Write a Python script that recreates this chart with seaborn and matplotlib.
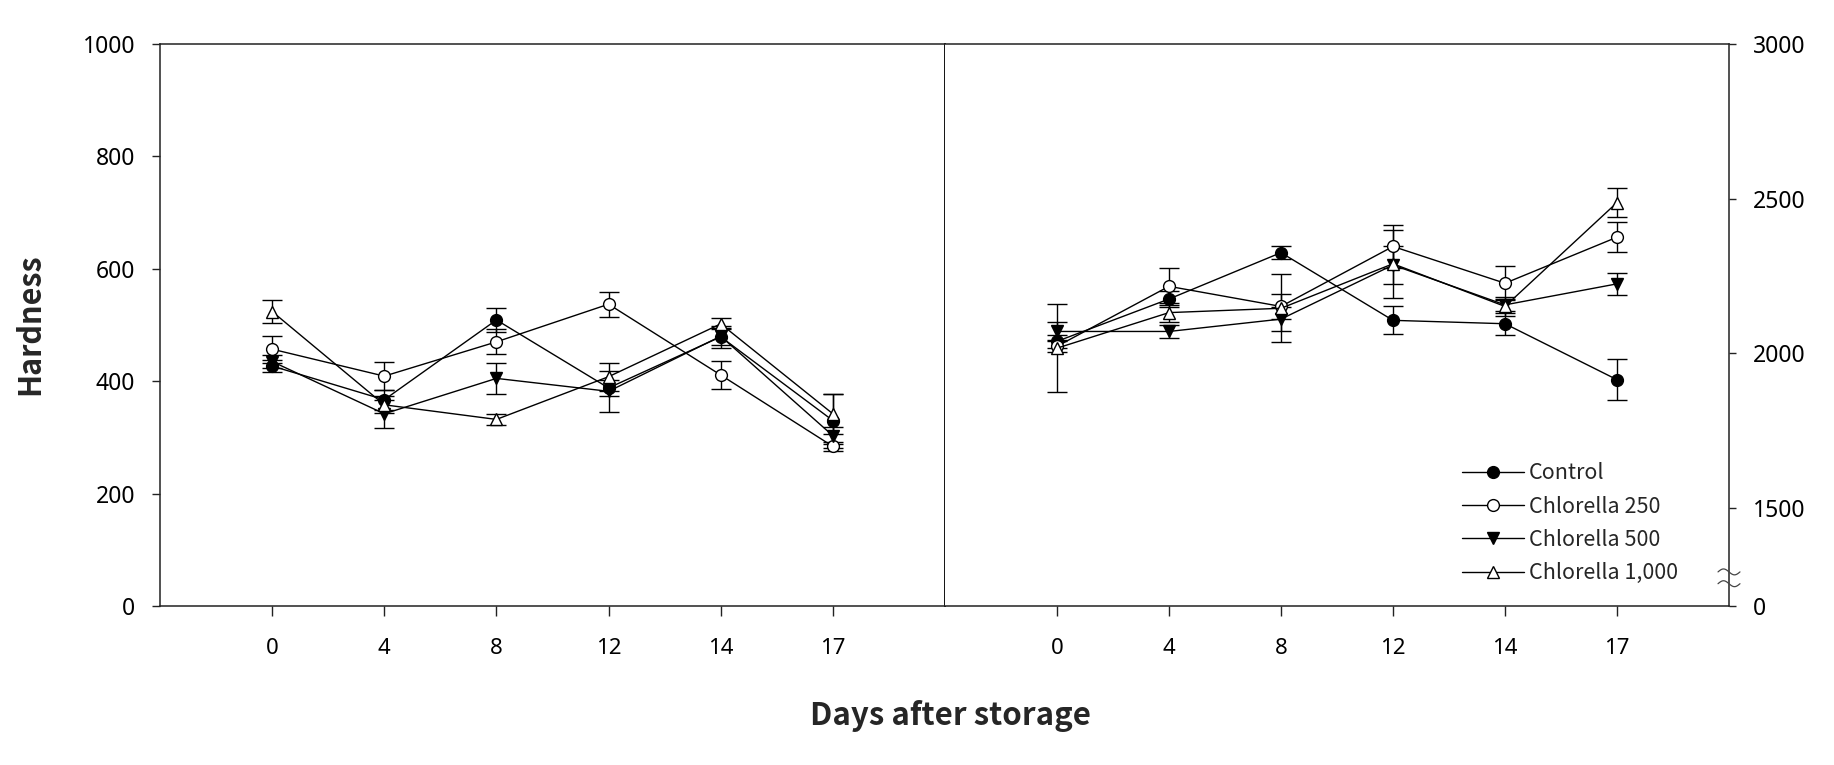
import numpy as np
import pandas as pd
import matplotlib
matplotlib.use("Agg")
import matplotlib.pyplot as plt
import matplotlib.transforms as mtransforms
import seaborn as sns

# ---------------- data ----------------
days = ["0", "4", "8", "12", "14", "17"]
series_names = ["Control", "Chlorella 250", "Chlorella 500", "Chlorella 1,000"]

# left panel (left axis, 0-1000)
left_control = [427, 367, 509, 388, 479, 330]
left_control_err = [10, 18, 22, 15, 20, 48]
left_c250 = [457, 409, 470, 537, 411, 284]
left_c250_err = [24, 25, 22, 22, 25, 8]
left_c500 = [435, 342, 405, 382, 480, 303]
left_c500_err = [12, 25, 27, 37, 15, 15]
left_c1000 = [524, 358, 332, 408, 502, 342]
left_c1000_err = [20, 15, 10, 25, 10, 36]

# right panel (right axis, broken 0 / 1500-3000)
right_control = [2038, 2175, 2325, 2106, 2095, 1914]
right_control_err = [20, 25, 22, 45, 35, 66]
right_c250 = [2022, 2216, 2151, 2345, 2226, 2375]
right_c250_err = [20, 60, 40, 70, 55, 48]
right_c500 = [2070, 2070, 2110, 2285, 2156, 2224]
right_c500_err = [30, 20, 40, 60, 20, 35]
right_c1000 = [2016, 2131, 2145, 2289, 2151, 2487]
right_c1000_err = [143, 30, 110, 110, 30, 48]

left_ticks = [0, 200, 400, 600, 800, 1000]
right_ticks = [0, 1500, 2000, 2500, 3000]

# ---------------- style ----------------
sns.set_style("ticks")
plt.rcParams["font.family"] = ["Noto Sans", "DejaVu Sans"]
TITLE_FONT = ["Noto Sans CJK KR", "DejaVu Sans"]

styles = [
    dict(marker="o", mfc="black"),
    dict(marker="o", mfc="white"),
    dict(marker="v", mfc="black"),
    dict(marker="^", mfc="white"),
]

fig = plt.figure(figsize=(18.34, 7.65), dpi=100)
L, M, R = 160 / 1834, 945 / 1834, 1729 / 1834
B, T = 1 - 606 / 765, 1 - 44 / 765
ax1 = fig.add_axes([L, B, M - L, T - B])
ax2 = fig.add_axes([M, B, R - M, T - B])

x = np.arange(len(days))


def draw(ax, vals, errs):
    for name, v, e, st in zip(series_names, vals, errs, styles):
        df = pd.DataFrame({"x": x, "y": v})
        ax.errorbar(x, v, yerr=e, fmt="none", ecolor="black", elinewidth=1.0,
                    capsize=7.5, capthick=1.0, zorder=2)
        sns.lineplot(data=df, x="x", y="y", ax=ax, color="black", lw=1.0,
                     marker=st["marker"], markersize=8.5, markerfacecolor=st["mfc"],
                     markeredgecolor="black", markeredgewidth=1.0, label=name,
                     zorder=3)


draw(ax1, [left_control, left_c250, left_c500, left_c1000],
     [left_control_err, left_c250_err, left_c500_err, left_c1000_err])
draw(ax2, [right_control, right_c250, right_c500, right_c1000],
     [right_control_err, right_c250_err, right_c500_err, right_c1000_err])


# broken right axis scale: 0-1500 compressed, 1500-3000 expanded
def fwd(v):
    v = np.asarray(v, dtype=float)
    return np.where(v < 1500, v * 84 / 1500, 84 + (v - 1500) * 396 / 1500)


def inv(h):
    h = np.asarray(h, dtype=float)
    return np.where(h < 84, h * 1500 / 84, 1500 + (h - 84) * 1500 / 396)


ax2.set_yscale("function", functions=(fwd, inv))

for ax in (ax1, ax2):
    ax.set_xlim(-1, len(days))
    ax.set_xticks(x)
    ax.set_xticklabels(days)
    ax.set_xlabel("")
    ax.set_ylabel("")
    for sp in ax.spines.values():
        sp.set_color("#222222")
        sp.set_linewidth(1.1)
        sp.set_visible(True)
    ax.tick_params(axis="x", direction="out", length=7, width=1.0, pad=16,
                   labelsize=16, colors="#222222", labelcolor="black")

ax1.spines["right"].set_linewidth(1.4)
ax1.spines["right"].set_color("#111111")

ax1.set_ylim(0, 1000)
ax1.set_yticks(left_ticks)
ax1.tick_params(axis="y", direction="out", length=6, width=1.0, pad=12,
                labelsize=16.5, left=True, right=False, colors="#222222",
                labelcolor="black")

ax2.spines["left"].set_visible(False)
ax2.set_ylim(0, 3000)
ax2.set_yticks(right_ticks)
ax2.yaxis.set_minor_locator(matplotlib.ticker.NullLocator())
ax2.yaxis.tick_right()
ax2.tick_params(axis="y", direction="out", length=5, width=1.0, pad=12,
                labelsize=16.5, left=False, right=True, colors="#222222",
                labelcolor="black")

if ax1.get_legend():
    ax1.get_legend().remove()

leg = ax2.legend(loc="center left", bbox_to_anchor=(1462 / 1834, 0.316),
                 bbox_transform=fig.transFigure, frameon=False,
                 prop={"family": TITLE_FONT, "size": 15.5},
                 handlelength=2.9, handletextpad=0.2, labelspacing=0.52,
                 borderpad=0, borderaxespad=0)

# axis-break marks on right spine
trans = mtransforms.blended_transform_factory(ax2.transAxes, ax2.transData)
t = np.linspace(0, 1, 40)
xs = 1 - 0.014 + 0.028 * t
for yc in (520, 340):
    ys = yc + 45 * np.sin(2 * np.pi * t)
    ax2.plot(xs, ys, transform=trans, color="#444444", lw=0.9, clip_on=False,
             zorder=5)

fig.text(30 / 1834, 0.576, "Hardness", rotation=90, ha="center", va="center",
         fontsize=22, fontweight="bold", family=TITLE_FONT)
fig.text(951 / 1834, 1 - 716 / 765, "Days after storage", ha="center",
         va="center", fontsize=22.5, fontweight="bold", family=TITLE_FONT)

fig.savefig("out.png", dpi=100, facecolor="white")
